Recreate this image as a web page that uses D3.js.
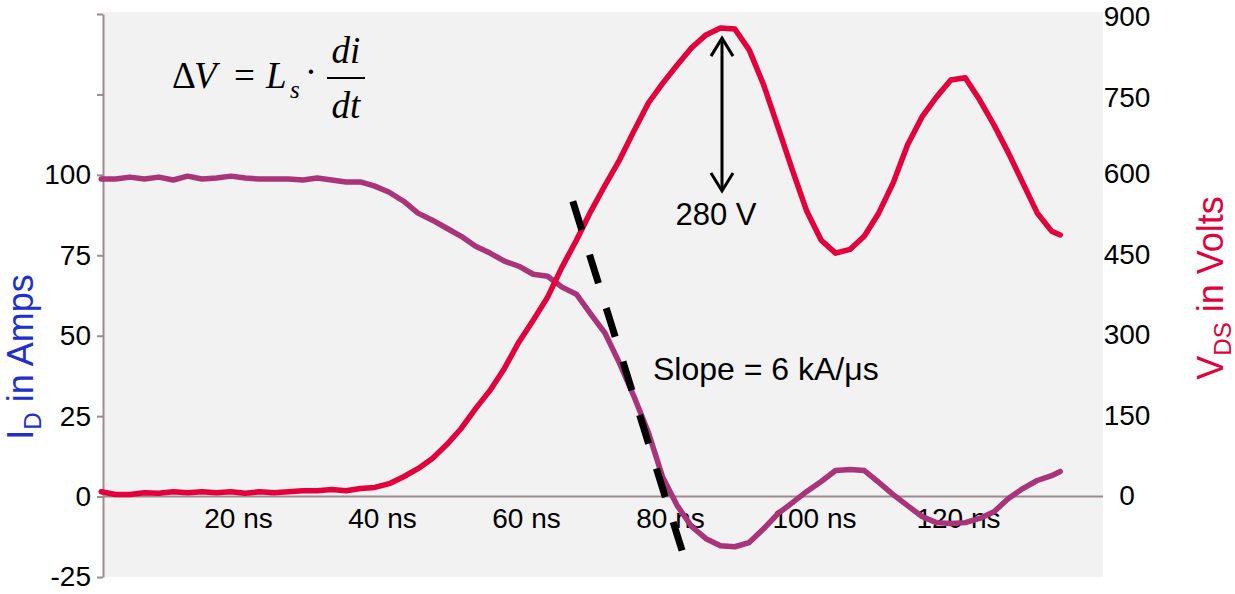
<!DOCTYPE html>
<html>
<head>
<meta charset="utf-8">
<script src="https://cdn.jsdelivr.net/npm/d3@7/dist/d3.min.js"></script>
<style>
    body { margin: 0; background: #fff; }
    text { font-family: "Liberation Sans", Arial, sans-serif; }
</style>
</head>
<body>
<script>

// time in ns
var times = [1, 3, 5, 7, 9, 11, 13, 15, 17, 19, 21, 23, 25, 27, 29, 31, 33, 35, 37, 39,
    41, 43, 45, 47, 49, 51, 53, 55, 57, 59, 61, 63, 65, 67, 69, 71, 73, 75, 77, 79,
    81, 83, 85, 87, 89, 91, 93, 95, 97, 99, 101, 103, 105, 107, 109, 111, 113, 115, 117, 119,
    121, 123, 125, 127, 129, 131, 133, 134.2];

// I_D in A
var current = [98.7, 98.7, 99.3, 98.7, 99.3, 98.4, 99.6, 98.7, 99, 99.6, 99, 98.7, 98.7, 98.7, 98.4, 99, 98.4, 97.8, 97.8, 96.5,
    94.6, 91.8, 88.1, 85.9, 83.4, 80.9, 77.8, 75.7, 73.2, 71.6, 69.1, 68.5, 65.1, 62.9, 56.7, 50.7, 41.4, 31.1, 19.9, 5.9,
    -2.8, -9.3, -13.1, -15.3, -15.6, -14.3, -10, -5.3, -1.9, 1.6, 4.7, 8.1, 8.4, 8.1, 4.4, 0.6, -2.8, -6.2, -8.1, -8.4,
    -8.1, -6.8, -4.7, -0.6, 2.5, 5, 6.5, 7.8];

// V_DS in V
var voltage = [9, 4, 4, 7, 6, 9, 7, 9, 7, 9, 6, 9, 7, 9, 11, 11, 13, 11, 15, 17,
    24, 37, 52, 71, 97, 127, 164, 198, 239, 288, 329, 372, 428, 478, 532, 581, 628, 682, 734, 771,
    805, 837, 861, 874, 872, 833, 768, 689, 609, 532, 478, 454, 461, 486, 529, 585, 656, 708, 745, 777,
    781, 740, 693, 641, 585, 529, 495, 488];

var currentTicks = [-25, 0, 25, 50, 75, 100, 125, 150];
var currentLabels = [-25, 0, 25, 50, 75, 100];
var voltageTicks = [0, 150, 300, 450, 600, 750, 900];
var timeTicks = [20, 40, 60, 80, 100, 120];

// di/dt fit line (t, I) and overshoot annotation (V)
var slopeLine = [[66.5, 91.8], [81.9, -18.4]];
var overshoot = [570, 855];

var Chart = (function() {

    var svg, w = 1235, h = 594;
    var currentColor = "#a9347a",
        voltageColor = "#e4003a",
        axisColor = "#9b8b8e";

    return {
        init: function() {

            svg = d3.select("body").append("svg")
                .attr("width", w)
                .attr("height", h);

            var x = d3.scaleLinear().domain([0, 140]).range([94, 1102]);
            var yI = d3.scaleLinear().domain([-25, 150]).range([577, 14]);
            var yV = d3.scaleLinear().domain([-150, 900]).range([577, 14]);

            // plot area
            svg.append("rect")
                .attr("x", 103).attr("y", 12)
                .attr("width", 1000).attr("height", 565)
                .attr("fill", "#f2f2f2");

            // zero line
            svg.append("line")
                .attr("x1", 103).attr("x2", 1103)
                .attr("y1", yI(0)).attr("y2", yI(0))
                .attr("stroke", axisColor).attr("stroke-width", 2);

            // x labels
            var gx = svg.append("g")
                .attr("transform", "translate(0," + yI(0) + ")")
                .call(d3.axisBottom(x).tickValues(timeTicks).tickSize(0)
                    .tickFormat(function(d) { return d + " ns"; }));
            gx.select(".domain").remove();
            gx.selectAll("text")
                .attr("y", 12).attr("dy", "0.71em")
                .attr("font-size", 28).attr("fill", "#000")
                .style("font-family", "Liberation Sans, Arial, sans-serif");

            // left axis
            var gl = svg.append("g")
                .attr("transform", "translate(103,0)")
                .call(d3.axisLeft(yI).tickValues(currentTicks).tickSize(6).tickSizeOuter(0)
                    .tickFormat(function(d) { return currentLabels.indexOf(d) >= 0 ? d : ""; }));
            gl.select(".domain").attr("stroke", axisColor).attr("stroke-width", 2);
            gl.selectAll(".tick line").attr("stroke", axisColor).attr("stroke-width", 2);
            gl.selectAll("text")
                .attr("x", -12)
                .attr("font-size", 28).attr("fill", "#000")
                .style("font-family", "Liberation Sans, Arial, sans-serif");

            // right axis
            var gr = svg.append("g")
                .attr("transform", "translate(1127,0)")
                .call(d3.axisRight(yV).tickValues(voltageTicks).tickSize(0).tickPadding(0));
            gr.select(".domain").remove();
            gr.selectAll("text")
                .attr("x", 0).attr("text-anchor", "middle")
                .attr("y", function(d) { return d >= 750 ? 3 : -1; })
                .attr("font-size", 28).attr("fill", "#000")
                .style("font-family", "Liberation Sans, Arial, sans-serif");

            // axis titles
            var tl = svg.append("text")
                .attr("transform", "translate(33,357) rotate(-90)")
                .attr("text-anchor", "middle")
                .attr("font-size", 36).attr("fill", "#2030c8");
            tl.append("tspan").text("I");
            tl.append("tspan").attr("font-size", 24).attr("dy", 8).text("D");
            tl.append("tspan").attr("dy", -8).text(" in Amps");

            var tr = svg.append("text")
                .attr("transform", "translate(1223,288) rotate(-90)")
                .attr("text-anchor", "middle")
                .attr("font-size", 36).attr("fill", voltageColor);
            tr.append("tspan").text("V");
            tr.append("tspan").attr("font-size", 24).attr("dy", 8).text("DS");
            tr.append("tspan").attr("dy", -8).text(" in Volts");

            // series
            var iLine = d3.line()
                .x(function(d, i) { return x(times[i]); })
                .y(function(d) { return yI(d); });
            var vLine = d3.line()
                .x(function(d, i) { return x(times[i]); })
                .y(function(d) { return yV(d); });

            svg.append("path").datum(current)
                .attr("d", iLine)
                .attr("fill", "none").attr("stroke", currentColor)
                .attr("stroke-width", 5.5).attr("stroke-linejoin", "round").attr("stroke-linecap", "round");

            svg.append("path").datum(voltage)
                .attr("d", vLine)
                .attr("fill", "none").attr("stroke", voltageColor)
                .attr("stroke-width", 5.5).attr("stroke-linejoin", "round").attr("stroke-linecap", "round");

            // slope line
            svg.append("path").datum(slopeLine)
                .attr("d", d3.line()
                    .x(function(d) { return x(d[0]); })
                    .y(function(d) { return yI(d[1]); }))
                .attr("stroke", "#000").attr("stroke-width", 7)
                .attr("stroke-dasharray", "30,26");

            svg.append("text")
                .attr("x", 653).attr("y", 380)
                .attr("font-size", 32).attr("fill", "#000")
                .text("Slope = 6 kA/\u03bcs");

            // overshoot arrow
            var ax = 722, yTop = yV(overshoot[1]), yBot = yV(overshoot[0]);
            var arrow = svg.append("g")
                .attr("fill", "none").attr("stroke", "#000").attr("stroke-width", 3);
            arrow.append("line").attr("x1", ax).attr("x2", ax).attr("y1", yTop + 1).attr("y2", yBot - 1);
            arrow.append("path").attr("d", "M" + (ax - 11) + "," + (yTop + 18) + "L" + ax + "," + yTop + "L" + (ax + 11) + "," + (yTop + 18));
            arrow.append("path").attr("d", "M" + (ax - 11) + "," + (yBot - 18) + "L" + ax + "," + yBot + "L" + (ax + 11) + "," + (yBot - 18));

            svg.append("text")
                .attr("x", 716).attr("y", 225)
                .attr("text-anchor", "middle")
                .attr("font-size", 31).attr("fill", "#000")
                .text("280 V");

            // formula
            var serif = "Liberation Serif, Times New Roman, serif";
            var eq = svg.append("g").attr("fill", "#000");
            function part(txt, px, py, size, italic, anchor) {
                eq.append("text")
                    .attr("x", px).attr("y", py)
                    .attr("font-size", size)
                    .attr("font-style", italic ? "italic" : "normal")
                    .attr("text-anchor", anchor || "start")
                    .style("font-family", serif)
                    .text(txt);
            }
            part("\u0394", 172, 88, 37, false);
            part("V", 194, 88, 37, true);
            part("=", 234, 88, 37, false);
            part("L", 266, 88, 37, true);
            part("s", 290, 98, 25, true);
            part("\u00b7", 311, 84, 37, false, "middle");
            part("di", 346, 63, 37, true, "middle");
            part("dt", 346, 118, 37, true, "middle");
            eq.append("line").attr("x1", 327).attr("x2", 365).attr("y1", 78).attr("y2", 78)
                .attr("stroke", "#000").attr("stroke-width", 2);
        }
    };
})();

Chart.init();
</script>
</body>
</html>
